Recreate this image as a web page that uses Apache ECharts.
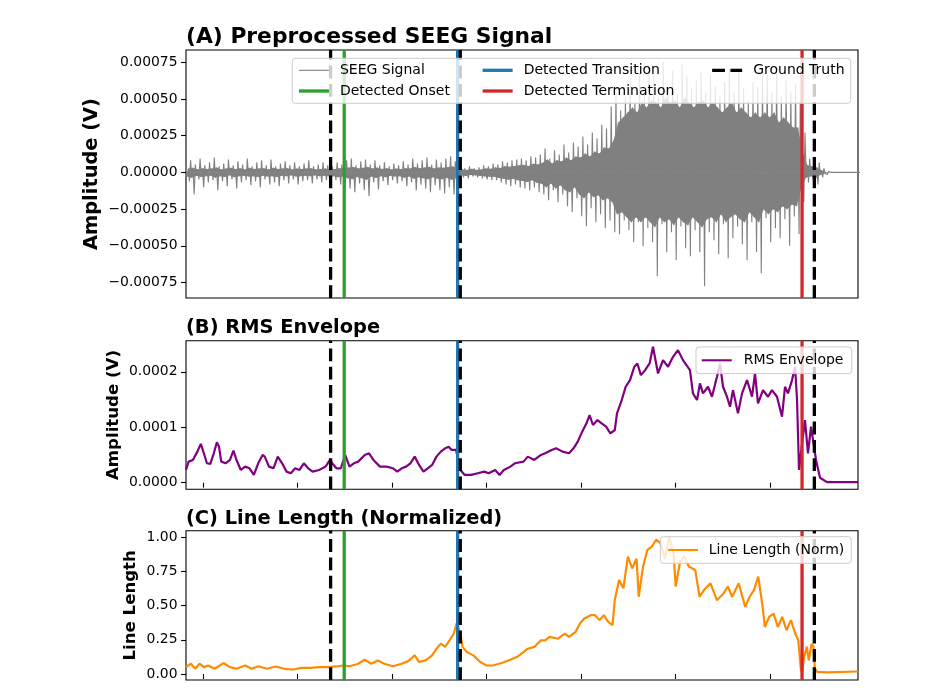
<!DOCTYPE html>
<html>
<head>
<meta charset="utf-8">
<script src="https://cdn.jsdelivr.net/npm/echarts@6/dist/echarts.min.js"></script>
<style>
html, body { margin: 0; padding: 0; background: #fff; }
#main { width: 940px; height: 690px; }
</style>
</head>
<body>
<div id="main"></div>
<script>
// ---- data (time in s, signal in microvolts) ----
var binStart = 8.2;
var binStep = 0.5;

// outer spikes (upper / lower) of the SEEG trace in each 0.5 s bin (uV)
var sigHiUV = [
  41, 82, 54, 95, 48, 68, 102, 41, 61, 88, 48, 75, 54, 95, 41, 68, 82, 48, 88, 41, 61, 75, 48, 68, 41, 61, 82, 41, 54, 68, 48,
  41, 68, 54, 82, 95, 48, 75, 88, 54, 82, 48, 68, 41, 61, 48, 75, 54, 95, 61, 82, 102, 54, 88, 68, 95, 109, 75,
  34, 27, 41, 27, 34,
  48, 41, 61, 54, 75, 68, 82, 88, 95, 82, 109, 102, 122,
  163, 95, 150, 122, 190, 136, 204, 177, 245, 190, 272, 231, 327, 299, 449,
  545, 422, 511, 647, 476, 681, 545, 715, 667, 511, 754, 579, 694, 531, 735, 653, 572, 626, 681, 545,
  667, 585, 517, 613, 708, 545, 681, 572, 490, 613, 585, 667, 667, 545, 680, 517, 626, 545, 600, 490,
  272, 95, 82, 68, 27, 7,
  0, 0, 0, 0, 0, 0, 0
];
var sigLoUV = [
  -61, -150, -48, -102, -68, -54, -122, -61, -95, -48, -109, -68, -54, -88, -61, -102, -48, -82, -68, -95, -54, -75, -48, -82, -61, -54, -75, -48, -68, -54, -61,
  -54, -82, -68, -109, -136, -75, -122, -163, -68, -116, -61, -88, -54, -75, -61, -95, -68, -122, -82, -109, -136, -88, -122, -143, -102, -150, -109,
  -34, -41, -27, -34, -41,
  -48, -54, -54, -68, -82, -95, -82, -102, -109, -122, -102, -136, -150,
  -190, -122, -204, -150, -231, -272, -177, -299, -367, -245, -340, -286, -381, -327, -408,
  -422, -327, -395, -476, -340, -504, -381, -476, -708, -354, -545, -408, -599, -368, -517, -572, -395, -545, -776, -408,
  -463, -558, -354, -585, -449, -368, -490, -599, -340, -545, -688, -313, -476, -380, -449, -320, -500, -300, -420,
  -204, -68, -54, -82, -34, -14,
  0, 0, 0, 0, 0, 0, 0
];
// edges of the dense core band in each bin (uV)
var coreHiUV = [
  26, 31, 20, 28, 23, 26, 33, 20, 26, 31, 23, 28, 20, 31, 23, 26, 28, 20, 31, 23, 26, 28, 20, 26, 23, 26, 28, 20, 23, 26, 20,
  23, 28, 26, 33, 36, 26, 31, 36, 26, 33, 23, 28, 20, 26, 23, 28, 26, 36, 28, 33, 38, 26, 33, 31, 36, 40, 31,
  20, 17, 24, 17, 20,
  27, 24, 34, 30, 41, 38, 44, 48, 51, 44, 58, 54, 65,
  88, 61, 82, 75, 102, 82, 109, 102, 129, 109, 143, 129, 170, 163, 218,
  340, 374, 408, 442, 408, 476, 442, 490, 476, 442, 510, 476, 490, 442, 510, 476, 442, 476, 490, 442,
  476, 442, 408, 442, 476, 408, 442, 408, 374, 408, 374, 408, 374, 408, 340, 374, 340, 306, 306,
  136, 48, 41, 34, 14, 3,
  0, 0, 0, 0, 0, 0, 0
];
var coreLoUV = [
  -28, -36, -23, -31, -26, -23, -36, -26, -31, -20, -33, -26, -23, -28, -26, -31, -23, -28, -26, -31, -23, -26, -20, -28, -26, -23, -26, -20, -26, -23, -26,
  -26, -33, -28, -40, -46, -31, -40, -51, -28, -38, -26, -33, -23, -28, -26, -36, -28, -43, -33, -40, -46, -33, -43, -46, -38, -51, -40,
  -20, -24, -17, -20, -24,
  -27, -30, -30, -38, -44, -51, -44, -54, -58, -65, -54, -71, -78,
  -102, -75, -109, -88, -122, -136, -102, -150, -177, -136, -170, -156, -190, -177, -204,
  -286, -272, -306, -340, -306, -340, -306, -340, -374, -306, -340, -320, -360, -306, -340, -360, -306, -340, -374, -320,
  -306, -340, -286, -340, -306, -286, -320, -340, -272, -306, -340, -252, -286, -252, -272, -230, -252, -218, -230,
  -102, -34, -27, -41, -17, -7,
  0, 0, 0, 0, 0, 0, 0
];

// RMS envelope (uV)
var rmsT = [8.21, 8.49, 8.94, 9.41, 9.78, 10.10, 10.42, 10.78, 11.15, 11.48, 11.70, 11.94, 12.40, 12.86, 13.23, 13.55,
  14.01, 14.47, 14.93, 15.39, 15.85, 16.31, 16.54, 16.99, 17.46, 17.92, 18.38, 18.84, 19.30, 19.76, 20.22, 20.68,
  21.14, 21.60, 22.29, 22.98, 23.44, 23.67, 24.13, 24.59, 25.05, 25.51, 25.97, 26.43, 27.12, 27.58, 28.04, 28.73,
  29.42, 30.11, 30.57, 31.03, 31.49, 31.95, 32.41, 32.87, 33.33, 33.79, 34.25, 34.71, 35.17, 35.63, 36.00, 36.32,
  36.78, 37.24, 37.70, 38.39, 39.08, 39.77, 40.23, 40.92, 41.39, 41.84, 42.53, 43.00, 43.92, 44.37, 45.06, 45.76,
  46.21, 46.90, 47.37, 48.05, 48.74, 49.21, 49.66, 50.13, 50.58, 50.91, 51.27, 51.74, 52.19, 52.66, 53.11, 53.58,
  53.81, 54.26, 54.73, 55.19, 55.64, 55.97, 56.34, 56.79, 57.26, 57.62, 58.15, 58.68, 59.21, 59.74, 60.26, 60.79,
  61.53, 61.85, 62.28, 62.59, 62.91, 63.44, 63.86, 64.39, 64.71, 65.03, 65.45, 65.77, 66.08, 66.61, 67.04, 67.57,
  68.10, 68.41, 68.73, 69.26, 69.79, 70.21, 70.74, 71.27, 71.59, 71.90, 72.33, 72.65, 72.86, 73.07, 73.39, 73.70,
  74.02, 74.34, 74.55, 74.87, 75.29, 76.03, 79.31];
var rmsUV = [23, 38, 41, 56, 70, 53, 35, 34, 53, 73, 65, 38, 35, 41, 58, 41,
  23, 29, 26, 14, 35, 50, 47, 29, 26, 47, 35, 20, 17, 26, 23, 35,
  26, 20, 23, 29, 41, 35, 26, 26, 50, 29, 35, 38, 50, 53, 41, 29,
  29, 26, 20, 26, 29, 35, 47, 32, 20, 26, 32, 47, 56, 62, 65, 59,
  59, 23, 14, 14, 17, 20, 17, 23, 14, 23, 29, 35, 38, 47, 41, 50,
  53, 59, 62, 56, 53, 62, 74, 92, 107, 122, 104, 113, 107, 101, 89, 95,
  125, 146, 173, 185, 209, 215, 194, 203, 215, 245, 197, 221, 209, 227, 239, 221,
  203, 161, 149, 179, 161, 173, 155, 191, 215, 173, 155, 137, 167, 125, 161, 185,
  155, 197, 143, 167, 155, 167, 155, 119, 173, 161, 185, 209, 149, 23, 70, 113,
  53, 101, 101, 41, 9, 1, 1];

// normalized line length
var llT = [8.21, 8.39, 8.72, 9.18, 9.64, 10.10, 10.56, 11.25, 12.17, 12.86, 13.55, 14.47, 15.16, 15.85, 16.77, 17.69,
  18.61, 19.53, 20.45, 21.37, 22.29, 23.21, 24.13, 24.82, 25.51, 26.43, 27.12, 27.81, 28.50, 29.19, 30.11, 31.03,
  31.72, 32.41, 32.87, 33.56, 34.25, 34.71, 35.17, 35.63, 36.09, 36.55, 36.83, 37.24, 37.47, 37.93, 38.62, 39.31,
  40.00, 40.69, 41.61, 42.53, 43.22, 43.91, 44.37, 45.06, 45.75, 46.21, 46.67, 47.59, 48.28, 48.74, 49.43, 49.89,
  50.35, 51.04, 51.50, 51.96, 52.42, 52.88, 53.34, 53.57, 54.03, 54.49, 54.96, 55.42, 55.88, 56.11, 56.57, 57.03,
  57.49, 57.95, 58.41, 58.87, 59.33, 59.79, 60.02, 60.48, 60.94, 61.40, 62.09, 62.55, 63.01, 63.70, 64.39, 65.08,
  65.54, 66.00, 66.69, 67.38, 67.84, 68.30, 68.76, 69.22, 69.45, 69.91, 70.37, 70.83, 71.29, 71.75, 72.21, 72.67,
  72.99, 73.27, 73.39, 73.60, 73.90, 74.10, 74.40, 74.60, 74.75, 75.00, 76.00, 79.31];
var llV = [0.05, 0.05, 0.075, 0.038, 0.075, 0.05, 0.062, 0.038, 0.08, 0.05, 0.038, 0.062, 0.038, 0.057, 0.038, 0.055,
  0.038, 0.033, 0.045, 0.045, 0.05, 0.05, 0.055, 0.062, 0.057, 0.075, 0.104, 0.075, 0.099, 0.075, 0.057, 0.075,
  0.094, 0.136, 0.089, 0.099, 0.136, 0.185, 0.222, 0.198, 0.246, 0.296, 0.369, 0.296, 0.198, 0.16, 0.136, 0.089,
  0.062, 0.062, 0.08, 0.104, 0.124, 0.16, 0.185, 0.198, 0.246, 0.246, 0.271, 0.258, 0.296, 0.271, 0.308, 0.369,
  0.406, 0.43, 0.43, 0.394, 0.43, 0.381, 0.357, 0.54, 0.688, 0.627, 0.859, 0.773, 0.843, 0.565, 0.786, 0.908,
  0.932, 0.982, 0.957, 0.843, 1.0, 0.884, 0.64, 0.819, 0.859, 0.786, 0.761, 0.565, 0.614, 0.663, 0.54, 0.589,
  0.64, 0.565, 0.663, 0.491, 0.565, 0.614, 0.712, 0.491, 0.344, 0.418, 0.442, 0.344, 0.418, 0.32, 0.394, 0.296,
  0.246, 0.03, 0.01, 0.12, 0.2, 0.1, 0.22, 0.2, 0.04, 0.015, 0.012, 0.018];

// event times (s)
var gtTimes = [23.51, 37.23, 74.69];
var onsetTime = 24.95;
var transitionTime = 36.95;
var terminationTime = 73.39;

// axis ticks
var xTicks = [10, 20, 30, 40, 50, 60, 70];
var ampTicks = [-0.00075, -0.0005, -0.00025, 0, 0.00025, 0.0005, 0.00075];
var rmsTicks = [0, 0.0001, 0.0002];
var llTicks = [0, 0.25, 0.5, 0.75, 1];

// ---- build the chart ----
var FONT = 'DejaVu Sans';
var GRAY = '#808080';
var xMin = 8.21, xMax = 79.31;

// each bin: spike up, core low, core high, spike down
var sigData = [], coreTop = [], coreBottom = [];
for (var i = 0; i < sigHiUV.length; i++) {
  var t = binStart + i * binStep;
  var q = binStep / 4;
  sigData.push([t, sigHiUV[i] / 1e6]);
  sigData.push([t + q, coreLoUV[i] / 1e6]);
  sigData.push([t + 2 * q, coreHiUV[i] / 1e6]);
  sigData.push([t + 3 * q, sigLoUV[i] / 1e6]);
  coreTop.push([t + 2 * q, coreHiUV[i] / 1e6]);
  coreBottom.push([t + q, coreLoUV[i] / 1e6]);
}
var rmsData = rmsT.map(function (t, i) { return [t, rmsUV[i] / 1e6]; });
var llData = llT.map(function (t, i) { return [t, llV[i]]; });

var panels = [
  { top: 50, height: 248, min: -0.000856, max: 0.000834, ticks: ampTicks, dec: 5,
    name: 'Amplitude (V)', nameSize: 19.4, nameGap: 84.5 },
  { top: 340.7, height: 148.6, min: -0.0000119, max: 0.000256, ticks: rmsTicks, dec: 4,
    name: 'Amplitude (V)', nameSize: 16.6, nameGap: 63.5 },
  { top: 530.7, height: 149.3, min: -0.044, max: 1.048, ticks: llTicks, dec: 2,
    name: 'Line Length', nameSize: 16.6, nameGap: 46.5 }
];

var grids = [], xAxes = [], yAxes = [], series = [];

panels.forEach(function (p, k) {
  grids.push({ left: 186, width: 672, top: p.top, height: p.height, show: true,
    borderColor: '#000', borderWidth: 1.1, backgroundColor: 'transparent', containLabel: false });
  xAxes.push({
    type: 'value', gridIndex: k, min: xMin, max: xMax,
    axisLine: { show: false }, splitLine: { show: false },
    axisLabel: { show: false },
    axisTick: { show: true, customValues: xTicks, length: 4.9, lineStyle: { color: '#000', width: 1.1 } }
  });
  yAxes.push({
    type: 'value', gridIndex: k, min: p.min, max: p.max,
    axisLine: { show: false }, splitLine: { show: false },
    axisTick: { show: true, customValues: p.ticks, length: 4.9, lineStyle: { color: '#000', width: 1.1 } },
    axisLabel: {
      customValues: p.ticks, margin: 8.5, color: '#000', fontFamily: FONT, fontSize: 13.9,
      formatter: (function (dec) {
        return function (v) { return Number(v).toFixed(dec).replace('-', '\u2212'); };
      })(p.dec)
    },
    name: p.name, nameLocation: 'middle', nameGap: p.nameGap, nameMoveOverlap: false,
    nameTextStyle: { fontFamily: FONT, fontWeight: 'bold', fontSize: p.nameSize, color: '#000' }
  });

  function vline(name, t, color, width, dashed) {
    series.push({
      name: name, type: 'line', xAxisIndex: k, yAxisIndex: k,
      data: [[t, p.min], [t, p.max]], symbol: 'none', showSymbol: false, silent: true, z: 3,
      lineStyle: { color: color, width: width, type: dashed ? [12.8, 5.5] : 'solid' },
      itemStyle: { color: color }
    });
  }

  if (k === 0) {
    // dense part of the trace, filled to zero from each side
    [coreTop, coreBottom].forEach(function (band) {
      series.push({ name: 'core', type: 'line', xAxisIndex: 0, yAxisIndex: 0, data: band,
        symbol: 'none', showSymbol: false, silent: true, z: 2,
        lineStyle: { width: 0 }, areaStyle: { color: GRAY, opacity: 1 } });
    });
    series.push({ name: 'SEEG Signal', type: 'line', xAxisIndex: 0, yAxisIndex: 0, data: sigData,
      symbol: 'none', showSymbol: false, silent: true, z: 2,
      lineStyle: { color: GRAY, width: 1.1 }, itemStyle: { color: GRAY } });
  } else if (k === 1) {
    series.push({ name: 'RMS Envelope', type: 'line', xAxisIndex: 1, yAxisIndex: 1, data: rmsData,
      symbol: 'none', showSymbol: false, silent: true, z: 2,
      lineStyle: { color: '#800080', width: 2.2 }, itemStyle: { color: '#800080' } });
  } else {
    series.push({ name: 'Line Length (Norm)', type: 'line', xAxisIndex: 2, yAxisIndex: 2, data: llData,
      symbol: 'none', showSymbol: false, silent: true, z: 2,
      lineStyle: { color: '#ff8c00', width: 2.2 }, itemStyle: { color: '#ff8c00' } });
  }
  vline('Detected Onset', onsetTime, '#2ca02c', 3.3, false);
  vline('Detected Transition', transitionTime, '#1f77b4', 3.3, false);
  vline('Detected Termination', terminationTime, '#d62728', 3.3, false);
  gtTimes.forEach(function (t) { vline('Ground Truth', t, '#000', 3.3, true); });
});

function legendText(padLeft) {
  return { fontFamily: FONT, fontSize: 14, color: '#000', lineHeight: 14, padding: [0, 0, 0, padLeft] };
}
function item(name, w) {
  return { name: name, lineStyle: { width: w } };
}
var legendBase = { orient: 'vertical', itemWidth: 30, itemHeight: 14, itemGap: 6.7, padding: 0,
  selectedMode: false, z: 20, itemStyle: { opacity: 0 } };

var legends = [
  Object.assign({}, legendBase, { data: [item('SEEG Signal', 1.1), item('Detected Onset', 3.3)],
    left: 297.3, top: 63.3, textStyle: legendText(6) }),
  Object.assign({}, legendBase, { data: [item('Detected Transition', 3.3), item('Detected Termination', 3.3)],
    left: 481, top: 63.3, textStyle: legendText(6) }),
  Object.assign({}, legendBase, { data: [item('Ground Truth', 3.3)], left: 710.5, top: 63.3, textStyle: legendText(6) }),
  Object.assign({}, legendBase, { data: [item('RMS Envelope', 2.1)], left: 696, top: 347, padding: [6.3, 8.3, 6.3, 4.7],
    backgroundColor: 'rgba(255,255,255,0.8)', borderColor: '#cccccc', borderWidth: 1, borderRadius: 3,
    textStyle: legendText(7) }),
  Object.assign({}, legendBase, { data: [item('Line Length (Norm)', 2.1)], left: 660.4, top: 536.7, padding: [6.3, 7, 6.3, 6.6],
    backgroundColor: 'rgba(255,255,255,0.8)', borderColor: '#cccccc', borderWidth: 1, borderRadius: 3,
    textStyle: legendText(5.7) })
];

var chart = echarts.init(document.getElementById('main'), null, { renderer: 'canvas' });
chart.setOption({
  animation: false,
  backgroundColor: '#fff',
  title: [
    { text: '(A) Preprocessed SEEG Signal', left: 186, top: 26.5, padding: 0,
      textStyle: { fontFamily: FONT, fontWeight: 'bold', fontSize: 21.8, lineHeight: 21.8, color: '#000' } },
    { text: '(B) RMS Envelope', left: 186, top: 318, padding: 0,
      textStyle: { fontFamily: FONT, fontWeight: 'bold', fontSize: 19.4, lineHeight: 19.4, color: '#000' } },
    { text: '(C) Line Length (Normalized)', left: 186, top: 509.5, padding: 0,
      textStyle: { fontFamily: FONT, fontWeight: 'bold', fontSize: 19.4, lineHeight: 19.4, color: '#000' } }
  ],
  graphic: [
    { type: 'rect', z: 10, silent: true,
      shape: { x: 292.3, y: 58.3, width: 558.4, height: 45, r: 3 },
      style: { fill: 'rgba(255,255,255,0.8)', stroke: '#cccccc', lineWidth: 1 } }
  ],
  legend: legends,
  grid: grids,
  xAxis: xAxes,
  yAxis: yAxes,
  series: series
});
</script>
</body>
</html>
